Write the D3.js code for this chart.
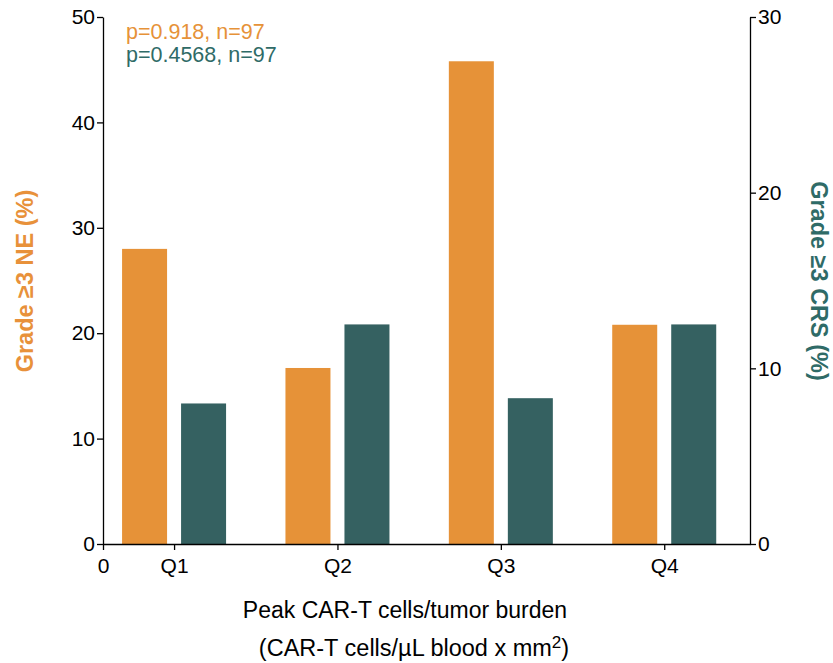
<!DOCTYPE html>
<html>
<head>
<meta charset="utf-8">
<script src="https://cdn.jsdelivr.net/npm/d3@7"></script>
<style>
  body { margin: 0; background: #fff; }
  text { font-family: "Liberation Sans", Arial, sans-serif; }
</style>
</head>
<body>
<div class="chart"></div>
<script>
var quartiles = ["Q1", "Q2", "Q3", "Q4"];
var neValues = [28.0, 16.7, 45.8, 20.8];   // Grade >=3 NE (%), left axis
var crsValues = [8.0, 12.5, 8.3, 12.5];    // Grade >=3 CRS (%), right axis
var leftTicks = [0, 10, 20, 30, 40, 50];
var rightTicks = [0, 10, 20, 30];

var orange = "#e69238";
var teal = "#356161";

var svg = d3.select(".chart")
            .append("svg")
            .attr("width", 833)
            .attr("height", 663);

var plotLeft = 103, plotRight = 750, plotTop = 17, plotBottom = 544;

var xStart = 0.565;
var x = d3.scaleLinear().domain([xStart, 4.525]).range([plotLeft, plotRight]);
var yLeft = d3.scaleLinear().domain([0, 50]).range([plotBottom, plotTop]);
var yRight = d3.scaleLinear().domain([0, 30]).range([plotBottom, plotTop]);

var barW = 45, offset = 29.5;

svg.selectAll("rect.ne")
    .data(neValues)
  .enter()
    .append("rect")
    .attr("class", "ne")
    .attr("x", function(d, i) { return x(i + 1) - offset - barW / 2; })
    .attr("y", function(d) { return yLeft(d); })
    .attr("width", barW)
    .attr("height", function(d) { return plotBottom - yLeft(d); })
    .style("fill", orange);

svg.selectAll("rect.crs")
    .data(crsValues)
  .enter()
    .append("rect")
    .attr("class", "crs")
    .attr("x", function(d, i) { return x(i + 1) + offset - barW / 2; })
    .attr("y", function(d) { return yRight(d); })
    .attr("width", barW)
    .attr("height", function(d) { return plotBottom - yRight(d); })
    .style("fill", teal);

// axes
var gLeft = svg.append("g")
    .attr("transform", "translate(" + plotLeft + ",0)")
    .call(d3.axisLeft(yLeft).tickValues(leftTicks).tickSize(6).tickSizeOuter(0));

var gRight = svg.append("g")
    .attr("transform", "translate(" + plotRight + ",0)")
    .call(d3.axisRight(yRight).tickValues(rightTicks).tickSize(6).tickSizeOuter(0));

var gBottom = svg.append("g")
    .attr("transform", "translate(0," + plotBottom + ")")
    .call(d3.axisBottom(x).tickValues([xStart, 1, 2, 3, 4])
        .tickFormat(function(d) { return d < 1 ? "0" : quartiles[d - 1]; })
        .tickSize(6).tickSizeOuter(0));

[gLeft, gRight, gBottom].forEach(function(g) {
    g.select(".domain").attr("stroke", "#000").attr("stroke-width", 1.3);
    g.selectAll(".tick line").attr("stroke", "#000").attr("stroke-width", 1.3);
    g.selectAll(".tick text")
        .attr("fill", "#000")
        .style("font-size", "21px")
        .style("font-family", "Liberation Sans, Arial, sans-serif");
});
gLeft.selectAll(".tick text").attr("x", -8);
gRight.selectAll(".tick text").attr("x", 8);
gBottom.selectAll(".tick text").attr("y", 14);

// axis titles
svg.append("text")
    .attr("transform", "translate(33,281) rotate(-90)")
    .attr("text-anchor", "middle")
    .style("font-size", "23.5px")
    .style("font-weight", "bold")
    .style("fill", "#e8913a")
    .text("Grade ≥3 NE (%)");

svg.append("text")
    .attr("transform", "translate(811,281) rotate(90)")
    .attr("text-anchor", "middle")
    .style("font-size", "23.5px")
    .style("font-weight", "bold")
    .style("fill", "#2f6b67")
    .text("Grade ≥3 CRS (%)");

svg.append("text")
    .attr("x", 405)
    .attr("y", 618)
    .attr("text-anchor", "middle")
    .style("font-size", "23px")
    .style("fill", "#000")
    .text("Peak CAR-T cells/tumor burden");

var sub = svg.append("text")
    .attr("x", 414)
    .attr("y", 656)
    .attr("text-anchor", "middle")
    .style("font-size", "23.5px")
    .style("fill", "#000");
sub.append("tspan").text("(CAR-T cells/µL blood x mm");
sub.append("tspan").attr("dy", -8).style("font-size", "17px").text("2");
sub.append("tspan").attr("dy", 8).text(")");

// p-values
svg.append("text")
    .attr("x", 126)
    .attr("y", 39)
    .style("font-size", "21.5px")
    .style("fill", orange)
    .text("p=0.918, n=97");

svg.append("text")
    .attr("x", 126)
    .attr("y", 62)
    .style("font-size", "21.5px")
    .style("fill", "#2f6b67")
    .text("p=0.4568, n=97");
</script>
</body>
</html>
